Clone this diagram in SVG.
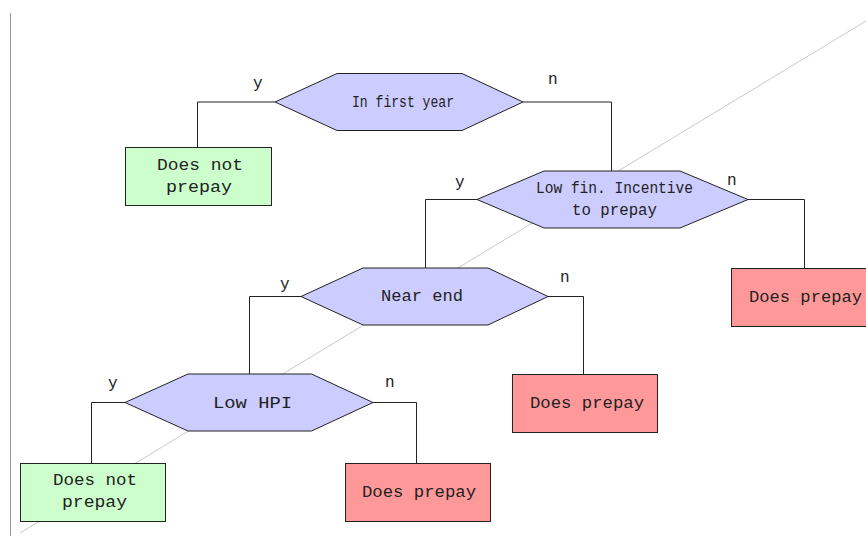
<svg xmlns="http://www.w3.org/2000/svg" width="866" height="536" viewBox="0 0 866 536">
  <style>
    .dec { fill: #ccccff; stroke: #222; stroke-width: 1; }
    .no { fill: #ccffcc; stroke: #222; stroke-width: 1; }
    .yes { fill: #ff9999; stroke: #222; stroke-width: 1; }
    .edge { fill: none; stroke: #222; stroke-width: 1; }
    text { font-family: "Liberation Mono", "DejaVu Sans Mono", monospace; font-size: 16px; fill: #222; }
    .lbl { font-size: 16px; }
  </style>
  <rect x="0" y="0" width="866" height="536" fill="#ffffff"/>
  <!-- frame and background guide lines -->
  <line x1="10.5" y1="13" x2="10.5" y2="536" stroke="#999" stroke-width="1"/>
  <line x1="20" y1="533" x2="866" y2="21" stroke="#bbb" stroke-width="0.8"/>

  <g id="connectors">
    <polyline class="edge" points="275,102 197.5,102 197.5,147"/>
    <polyline class="edge" points="523,102 611.5,102 611.5,171"/>
    <polyline class="edge" points="477,199.5 425.5,199.5 425.5,268"/>
    <polyline class="edge" points="748,199.5 804.5,199.5 804.5,268"/>
    <polyline class="edge" points="301,296.5 249.5,296.5 249.5,374"/>
    <polyline class="edge" points="548,296.5 583.5,296.5 583.5,374"/>
    <polyline class="edge" points="125,402.5 91.5,402.5 91.5,463"/>
    <polyline class="edge" points="373,402.5 416.5,402.5 416.5,463"/>
    <text class="lbl" x="253" y="88">y</text>
    <text class="lbl" x="548" y="84">n</text>
    <text class="lbl" x="455" y="187">y</text>
    <text class="lbl" x="727" y="185">n</text>
    <text class="lbl" x="280" y="289">y</text>
    <text class="lbl" x="560" y="282">n</text>
    <text class="lbl" x="108" y="388">y</text>
    <text class="lbl" x="385" y="387">n</text>
  </g>

  <g id="q-first-year">
    <polygon class="dec" points="275,102 337,73.5 462,73.5 523,102 462,130.5 337,130.5"/>
    <text x="352" y="107" textLength="102" lengthAdjust="spacingAndGlyphs">In first year</text>
  </g>
  <g id="leaf-first-year-y">
    <rect class="no" x="125.5" y="147.5" width="146" height="58"/>
    <text x="157" y="170" textLength="86" lengthAdjust="spacingAndGlyphs">Does not</text>
    <text x="166" y="192" textLength="66" lengthAdjust="spacingAndGlyphs">prepay</text>
  </g>

  <g id="q-low-incentive">
    <polygon class="dec" points="477,199.5 544,171 680,171 748,199.5 680,228 544,228"/>
    <text x="536" y="193" textLength="157" lengthAdjust="spacingAndGlyphs">Low fin. Incentive</text>
    <text x="572" y="215" textLength="85" lengthAdjust="spacingAndGlyphs">to prepay</text>
  </g>
  <g id="leaf-incentive-n">
    <rect class="yes" x="731.5" y="268.5" width="140" height="58"/>
    <text x="749" y="302" textLength="113" lengthAdjust="spacingAndGlyphs">Does prepay</text>
  </g>

  <g id="q-near-end">
    <polygon class="dec" points="301,296.5 363,268 488,268 548,296.5 488,325 363,325"/>
    <text x="381" y="301" textLength="82" lengthAdjust="spacingAndGlyphs">Near end</text>
  </g>
  <g id="leaf-near-end-n">
    <rect class="yes" x="512.5" y="374.5" width="145" height="58"/>
    <text x="530" y="408" textLength="114" lengthAdjust="spacingAndGlyphs">Does prepay</text>
  </g>

  <g id="q-low-hpi">
    <polygon class="dec" points="125,402.5 188,374 311.5,374 373,402.5 311.5,431 188,431"/>
    <text x="213" y="408" textLength="79" lengthAdjust="spacingAndGlyphs">Low HPI</text>
  </g>
  <g id="leaf-hpi-y">
    <rect class="no" x="20.5" y="463.5" width="145" height="58"/>
    <text x="53" y="485" textLength="84" lengthAdjust="spacingAndGlyphs">Does not</text>
    <text x="62" y="507" textLength="65" lengthAdjust="spacingAndGlyphs">prepay</text>
  </g>
  <g id="leaf-hpi-n">
    <rect class="yes" x="345.5" y="463.5" width="145" height="58"/>
    <text x="362" y="497" textLength="114" lengthAdjust="spacingAndGlyphs">Does prepay</text>
  </g>
</svg>
